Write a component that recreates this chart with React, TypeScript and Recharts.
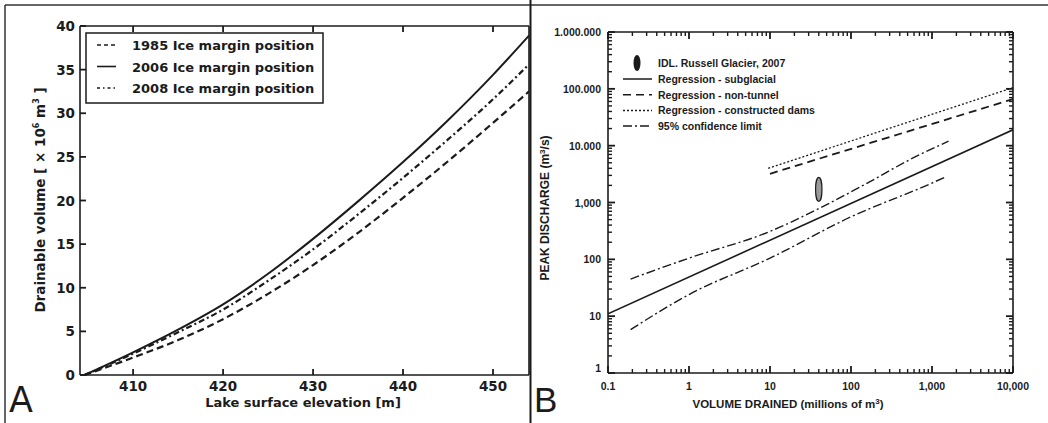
import React from "react";
import { LineChart, ComposedChart, Line, Scatter, XAxis, YAxis } from "recharts";

// Panel A: drainable volume vs lake level
const elevation = [404.6, 410, 415, 420, 425, 430, 435, 440, 445, 450, 454];
const vol1985 = [0, 2.0, 4.0, 6.4, 9.3, 12.6, 16.3, 20.3, 24.5, 28.9, 32.5];
const vol2006 = [0, 2.6, 5.2, 8.1, 11.6, 15.6, 19.9, 24.4, 29.2, 34.4, 38.9];
const vol2008 = [0, 2.45, 4.9, 7.5, 10.8, 14.4, 18.4, 22.6, 27.0, 31.6, 35.6];
const elevationTicks = [410, 420, 430, 440, 450];
const volumeTicks = [0, 5, 10, 15, 20, 25, 30, 35, 40];
const legendA = ["1985 Ice margin position", "2006 Ice margin position", "2008 Ice margin position"];

// Panel B: peak discharge vs volume drained (log-log)
const subVol = [0.1, 10000];
const subQ = [11, 19000];
const nonTunnelVol = [10, 10000];
const nonTunnelQ = [3200, 66000];
const damsVol = [9.5, 10000];
const damsQ = [4000, 105000];
const upperVol = [0.19, 1, 10, 40, 150, 600, 1600];
const upperQ = [45, 105, 310, 780, 2100, 6200, 12000];
const lowerVol = [0.19, 1, 10, 100, 1000, 1450];
const lowerQ = [5.8, 24, 105, 560, 2200, 2800];
const russellVol = [40];
const russellQ = [1700];
const volMajor = [0.1, 1, 10, 100, 1000, 10000];
const volLabels = ["0.1", "1", "10", "100", "1,000", "10,000"];
const qMajor = [1, 10, 100, 1000, 10000, 100000, 1000000];
const qLabels = ["1", "10", "100", "1,000", "10.000", "100.000", "1.000.000"];
const legendB = [
  "IDL. Russell Glacier, 2007",
  "Regression - subglacial",
  "Regression - non-tunnel",
  "Regression - constructed dams",
  "95% confidence limit",
];

const INK = "#1b1b1b";
const DASH_A = "7 4";
const DASHDOT_A = "6 3 2 3";
const DASH_B = "8 5";
const DOT_B = "2 2";
const DASHDOT_B = "9 3 2 3";

const tableA = elevation.map((x, i) => ({ x, v1985: vol1985[i], v2006: vol2006[i], v2008: vol2008[i] }));
const pts = (xs: number[], ys: number[]) => xs.map((x, i) => ({ x, y: ys[i] }));

// 2..9 multiples inside each decade, plus the decades themselves
const withMinors = (majors: number[]) => {
  const out: number[] = [];
  majors.slice(0, -1).forEach((m) => {
    for (let k = 1; k <= 9; k++) out.push(m * k);
  });
  out.push(majors[majors.length - 1]);
  return out;
};
const volTicks = withMinors(volMajor);
const qTicks = withMinors(qMajor);

// inward tick mark + optional label; axis uses tickSize 0 so (x, y) is on the frame
function Tick(props: any) {
  const { x, y, payload, side, majors, labels, font, len = 6, minorLen = 3, dx = 0, dy = 0 } = props;
  const v = payload.value;
  const idx = majors ? majors.findIndex((m: number) => Math.abs(v / m - 1) < 1e-6) : 0;
  const major = idx >= 0;
  const l = major ? len : minorLen;
  const text = labels ? (major ? labels[idx] : null) : side === "bottom" || side === "left" ? v : null;
  const w = major ? 1.8 : 1.4;
  if (side === "bottom" || side === "top") {
    const d = side === "bottom" ? -l : l;
    return (
      <g>
        <line x1={x} y1={y} x2={x} y2={y + d} stroke={INK} strokeWidth={w} />
        {text !== null && <text x={x} y={y + dy} textAnchor="middle" {...font}>{text}</text>}
      </g>
    );
  }
  const d = side === "left" ? l : -l;
  return (
    <g>
      <line x1={x} y1={y} x2={x + d} y2={y} stroke={INK} strokeWidth={w} />
      {text !== null && (
        <text x={x + dx} y={idx === 0 && labels ? y - 1 : y + dy} textAnchor="end" {...font}>{text}</text>
      )}
    </g>
  );
}

const Ellipse = (props: any) => (
  <ellipse cx={props.cx} cy={props.cy} rx={3.2} ry={12} fill="#9a9a9a" stroke={INK} strokeWidth={1.2} />
);

const fontA = { fontSize: 13.5, fontWeight: "bold", fill: INK, fontFamily: "DejaVu Sans" };
const fontB = { fontSize: 10.5, fontWeight: "bold", fill: INK, fontFamily: "Liberation Sans, Arial" };

function PanelA() {
  const axisLine = { stroke: INK, strokeWidth: 1.6 };
  const xs = { dataKey: "x", type: "number", domain: [404.1, 454], ticks: elevationTicks, allowDataOverflow: true,
    interval: 0, tickSize: 0, tickMargin: 0, tickLine: false, axisLine } as const;
  const ys = { type: "number", domain: [0, 40], ticks: volumeTicks, interval: 0, tickSize: 0, tickMargin: 0,
    tickLine: false, axisLine } as const;
  return (
    <LineChart width={530} height={423} data={tableA} margin={{ top: 25, right: 0, bottom: 18, left: 20 }}>
      <XAxis {...xs} height={30} tick={<Tick side="bottom" font={fontA} len={6} dy={16} />} />
      <XAxis {...xs} xAxisId="top" orientation="top" height={1} tick={<Tick side="top" len={6} />} />
      <YAxis {...ys} width={60} tick={<Tick side="left" font={fontA} len={6} dx={-5} dy={5} />} />
      <YAxis {...ys} yAxisId="right" orientation="right" width={1} tick={<Tick side="right" len={6} />} />
      <Line dataKey="v1985" type="monotone" stroke={INK} strokeWidth={2.2} strokeDasharray={DASH_A} dot={false}
        activeDot={false} isAnimationActive={false} />
      <Line dataKey="v2006" type="monotone" stroke={INK} strokeWidth={2} dot={false} activeDot={false}
        isAnimationActive={false} />
      <Line dataKey="v2008" type="monotone" stroke={INK} strokeWidth={2.2} strokeDasharray={DASHDOT_A} dot={false}
        activeDot={false} isAnimationActive={false} />
    </LineChart>
  );
}

function PanelB() {
  const axisLine = { stroke: INK, strokeWidth: 1.6 };
  const line = { dataKey: "y", dot: false, activeDot: false, isAnimationActive: false, stroke: INK } as const;
  const xs = { dataKey: "x", type: "number", scale: "log", domain: [0.1, 10000], ticks: volTicks,
    allowDataOverflow: true, interval: 0, tickSize: 0, tickMargin: 0, tickLine: false, axisLine } as const;
  const ys = { type: "number", scale: "log", domain: [1, 1000000], ticks: qTicks, allowDataOverflow: true,
    interval: 0, tickSize: 0, tickMargin: 0, tickLine: false, axisLine } as const;
  const xt = { majors: volMajor, len: 7, minorLen: 4 };
  const yt = { majors: qMajor, len: 7, minorLen: 4 };
  return (
    <ComposedChart width={518} height={423} margin={{ top: 31, right: 34, bottom: 30, left: 28 }}>
      <XAxis {...xs} height={20} tick={<Tick side="bottom" {...xt} labels={volLabels} font={fontB} dy={17} />} />
      <XAxis {...xs} xAxisId="top" orientation="top" height={1} tick={<Tick side="top" {...xt} />} />
      <YAxis {...ys} width={50} tick={<Tick side="left" {...yt} labels={qLabels} font={fontB} dx={-7} dy={4} />} />
      <YAxis {...ys} yAxisId="right" orientation="right" width={1} tick={<Tick side="right" {...yt} />} />
      <Line {...line} data={pts(damsVol, damsQ)} strokeWidth={1.3} strokeDasharray={DOT_B} />
      <Line {...line} data={pts(nonTunnelVol, nonTunnelQ)} strokeWidth={1.8} strokeDasharray={DASH_B} />
      <Line {...line} data={pts(subVol, subQ)} strokeWidth={1.6} />
      <Line {...line} data={pts(upperVol, upperQ)} type="monotone" strokeWidth={1.4} strokeDasharray={DASHDOT_B} />
      <Line {...line} data={pts(lowerVol, lowerQ)} type="monotone" strokeWidth={1.4} strokeDasharray={DASHDOT_B} />
      <Scatter data={pts(russellVol, russellQ)} dataKey="y" shape={<Ellipse />} isAnimationActive={false} />
    </ComposedChart>
  );
}

function Overlay() {
  const dj = { fontFamily: "DejaVu Sans", fontWeight: "bold" as const, fill: INK };
  const ar = { fontFamily: "Liberation Sans, Arial", fontWeight: "bold" as const, fill: INK };
  const aDash = ["4 3", undefined, "3 3 1.5 3"];
  const bDash = [undefined, DASH_B, DOT_B, DASHDOT_B];
  return (
    <svg width={1048} height={423} style={{ position: "absolute", left: 0, top: 0, pointerEvents: "none" }}>
      {/* scan frame */}
      <line x1={5} y1={5} x2={1048} y2={5} stroke="#333" strokeWidth={1.5} />
      <line x1={5} y1={5} x2={5} y2={423} stroke="#333" strokeWidth={1.5} />
      <line x1={530.5} y1={0} x2={530.5} y2={423} stroke={INK} strokeWidth={2} />

      {/* panel A legend */}
      <rect x={86} y={33} width={237} height={70} fill="#fff" stroke={INK} strokeWidth={1.5} />
      {legendA.map((t, i) => (
        <g key={t}>
          <line x1={97} x2={116} y1={45 + i * 21.5} y2={45 + i * 21.5} stroke={INK} strokeWidth={1.6}
            strokeDasharray={aDash[i]} />
          <text x={132} y={50 + i * 21.5} fontSize={13} {...dj}>{t}</text>
        </g>
      ))}
      <text transform="rotate(-90 40 200)" x={40} y={205} textAnchor="middle" fontSize={13.5} {...dj}>
        Drainable volume [ × 10<tspan dy={-6} fontSize={8}>6</tspan><tspan dy={6}> m</tspan>
        <tspan dy={-6} fontSize={8}>3</tspan><tspan dy={6}> ]</tspan>
      </text>
      <text x={303} y={407} textAnchor="middle" fontSize={13} {...dj}>Lake surface elevation [m]</text>
      <text x={9} y={412} fontSize={35} fontFamily="DejaVu Sans" fill={INK}>A</text>

      {/* panel B legend */}
      <ellipse cx={637} cy={63} rx={3.5} ry={8} fill={INK} />
      <text x={658} y={67} fontSize={10.5} {...ar}>{legendB[0]}</text>
      {legendB.slice(1).map((t, i) => (
        <g key={t}>
          <line x1={623} x2={652} y1={79 + i * 15.7} y2={79 + i * 15.7} stroke={INK} strokeWidth={1.5}
            strokeDasharray={bDash[i]} />
          <text x={658} y={83 + i * 15.7} fontSize={10.5} {...ar}>{t}</text>
        </g>
      ))}
      <text transform="rotate(-90 545 208)" x={545} y={212} textAnchor="middle" fontSize={12} {...ar}>
        PEAK DISCHARGE (m<tspan dy={-4} fontSize={8}>3</tspan><tspan dy={4}>/s)</tspan>
      </text>
      <text x={788} y={408} textAnchor="middle" fontSize={11.5} {...ar}>
        VOLUME DRAINED (millions of m<tspan dy={-4} fontSize={8}>3</tspan><tspan dy={4}>)</tspan>
      </text>
      <text x={534} y={412} fontSize={35} fontFamily="Liberation Sans, Arial" fill={INK}>B</text>
    </svg>
  );
}

export default function App() {
  return (
    <div style={{ position: "absolute", left: 0, top: 0, width: 1048, height: 423, background: "#fff" }}>
      <div style={{ position: "absolute", left: 0, top: 0 }}>
        <PanelA />
      </div>
      <div style={{ position: "absolute", left: 530, top: 0 }}>
        <PanelB />
      </div>
      <Overlay />
    </div>
  );
}
